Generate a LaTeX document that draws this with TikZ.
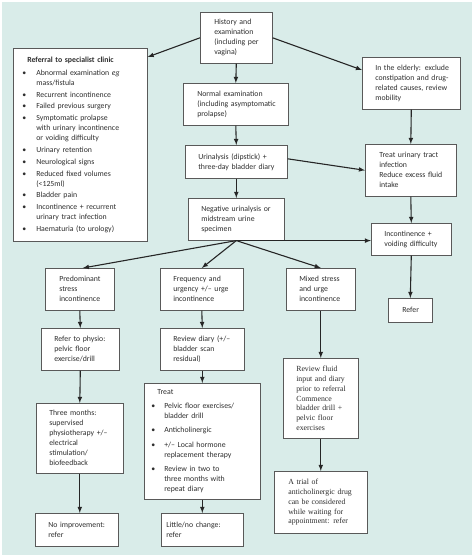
\documentclass[tikz,border=0pt]{standalone}
\usepackage{fontspec}
\setmainfont{Carlito}
\newfontfamily\timesface{Liberation Serif}
\usepackage{enumitem}
\usepackage{xcolor}
\usepackage{tikz}
\usetikzlibrary{calc, arrows}

\definecolor{bgteal}{HTML}{D9ECE9}
\definecolor{inkgray}{HTML}{2E2E2E}
\def\boxskip{11pt}

\tikzset{
  box/.style = {draw=black!65, line width=0.6pt, fill=white, anchor=north west,
    align=left, inner xsep=2pt, inner ysep=0pt, text=inkgray,
    font=\fontsize{7.8}{10}\selectfont,
    execute at begin node={\leftskip=\boxskip\hyphenpenalty=10000\exhyphenpenalty=10000}},
  pad/.code = {\def\boxskip{#1}},
  flow/.style = {-latex, line width=1.1pt, draw=black!85},
}

\begin{document}
\begin{tikzpicture}[x=1pt, y=-1pt]
  \useasboundingbox (0,0) rectangle (474,557);
  \fill[bgteal] (2,2) rectangle (472,555);

  % top of the chart
  \node[box, pad=12pt, minimum width=72pt, minimum height=51pt, text width=68pt] (hist) at (200,12)
  {History and\\examination\\(including per\\vagina)};
  \node[box, pad=12pt, minimum width=134pt, minimum height=193pt, text width=130pt] (ref) at (13,48)
  {\textbf{Referral to specialist clinic}
    \begin{itemize}[leftmargin=21pt, labelsep=10pt, itemsep=1.8pt, topsep=3pt, parsep=0pt, partopsep=0pt]
    \item Abnormal examination \textit{eg}\\mass/fistula
    \item Recurrent incontinence
    \item Failed previous surgery
    \item Symptomatic prolapse\\with urinary incontinence\\or voiding difficulty
    \item Urinary retention
    \item Neurological signs
    \item Reduced fixed volumes\\(<125ml)
    \item Bladder pain
    \item Incontinence + recurrent\\urinary tract infection
    \item Haematuria (to urology)
    \end{itemize}};
  \node[box, minimum width=98pt, minimum height=52pt, text width=94pt] (eld) at (362,57)
  {In the elderly: exclude\\constipation and drug-\\related causes, review\\mobility};

  % central column
  \node[box, pad=12pt, minimum width=105pt, minimum height=42pt, text width=101pt] (norm) at (183,83)
  {Normal examination\\(including asymptomatic\\prolapse)};
  \node[box, minimum width=102pt, minimum height=33pt, text width=98pt] (uri) at (185,145)
  {Urinalysis (dipstick) +\\three-day bladder diary};
  \node[box, minimum width=96pt, minimum height=42pt, text width=92pt] (neg) at (188,198)
  {Negative urinalysis or\\midstream urine\\specimen};

  % right column
  \node[box, pad=12pt, minimum width=91pt, minimum height=52pt, text width=87pt] (uti) at (365,144)
  {Treat urinary tract\\infection\\Reduce excess fluid\\intake};
  \node[box, minimum width=80pt, minimum height=32pt, text width=76pt] (inc) at (371,223)
  {Incontinence +\\voiding difficulty};
  \node[box, pad=12pt, minimum width=44pt, minimum height=24pt, text width=40pt] (refr) at (388,298)
  {Refer};

  % types of incontinence
  \node[box, pad=12pt, minimum width=69pt, minimum height=42pt, text width=65pt] (pred) at (45,268)
  {Predominant\\stress\\incontinence};
  \node[box, minimum width=83pt, minimum height=42pt, text width=79pt] (freq) at (160,268)
  {Frequency and\\urgency +/– urge\\incontinence};
  \node[box, minimum width=69pt, minimum height=42pt, text width=65pt] (mixd) at (286,268)
  {Mixed stress\\and urge\\incontinence};

  % stress branch
  \node[box, minimum width=78pt, minimum height=42pt, text width=74pt] (phys) at (41,328)
  {Refer to physio:\\pelvic floor\\exercise/drill};
  \node[box, minimum width=87pt, minimum height=70pt, text width=83pt] (three) at (36,403)
  {Three months:\\supervised\\physiotherapy +/–\\electrical\\stimulation/\\biofeedback};
  \node[box, minimum width=83pt, minimum height=33pt, text width=79pt] (noimp) at (35,513)
  {No improvement:\\refer};

  % urge branch
  \node[box, minimum width=84pt, minimum height=42pt, text width=80pt] (diary) at (160,328)
  {Review diary (+/–\\bladder scan\\residual)};
  \node[box, minimum width=116pt, minimum height=116pt, text width=112pt] (treat) at (144,383)
  {Treat
    \begin{itemize}[leftmargin=18pt, labelsep=9pt, itemsep=4.5pt, topsep=4pt, parsep=0pt, partopsep=0pt]
    \item Pelvic floor exercises/\\bladder drill
    \item Anticholinergic
    \item +/– Local hormone\\replacement therapy
    \item Review in two to\\three months with\\repeat diary
    \end{itemize}};
  \node[box, pad=3pt, minimum width=82pt, minimum height=33pt, text width=78pt] (little) at (161,513)
  {Little/no change:\\refer};

  % mixed branch
  \node[box, minimum width=75pt, minimum height=80pt, text width=71pt,
    font=\timesface\fontsize{7.8}{9.8}\selectfont] (fluid) at (283,358)
  {Review fluid\\input and diary\\prior to referral\\Commence\\bladder drill +\\pelvic floor\\exercises};
  \node[box, pad=12pt, minimum width=93pt, minimum height=62pt, text width=89pt,
    font=\timesface\fontsize{7.8}{9.8}\selectfont] (trial) at (274,471)
  {A trial of\\anticholinergic drug\\can be considered\\while waiting for\\appointment: refer};

  % connectors
  \draw[flow] (hist.west) -- ([yshift=-9pt]ref.north east);
  \draw[flow] (hist.east) -- ([yshift=-13pt]eld.north west);
  \draw[flow] (hist.south) -- (norm.north);
  \draw[flow] (norm.south) -- (uri.north);
  \draw[flow] (uri.south) -- (neg.north);
  \draw[flow] ([yshift=3pt]uri.east) -- (uti.west);
  \draw[flow] (eld.south) -- (uti.north);
  \draw[flow] (uti.south) -- (inc.north);
  \draw[flow] (inc.south) -- (refr.north);
  \draw[flow] (neg.south) -- (neg.south -| inc.west);
  \draw[flow] (neg.south) -- ([xshift=3pt]pred.north);
  \draw[flow] (neg.south) -- (freq.north);
  \draw[flow] (neg.south) -- (mixd.north);
  \draw[flow] (pred.south) -- (phys.north);
  \draw[flow] (phys.south) -- (three.north);
  \draw[flow] (three.south) -- (three.south |- noimp.north);
  \draw[flow] (freq.south) -- (diary.north);
  \draw[flow] (diary.south) -- (treat.north);
  \draw[flow] (treat.south) -- (little.north);
  \draw[flow] (mixd.south) -- (fluid.north);
  \draw[flow] (fluid.south) -- (trial.north);
\end{tikzpicture}
\end{document}
